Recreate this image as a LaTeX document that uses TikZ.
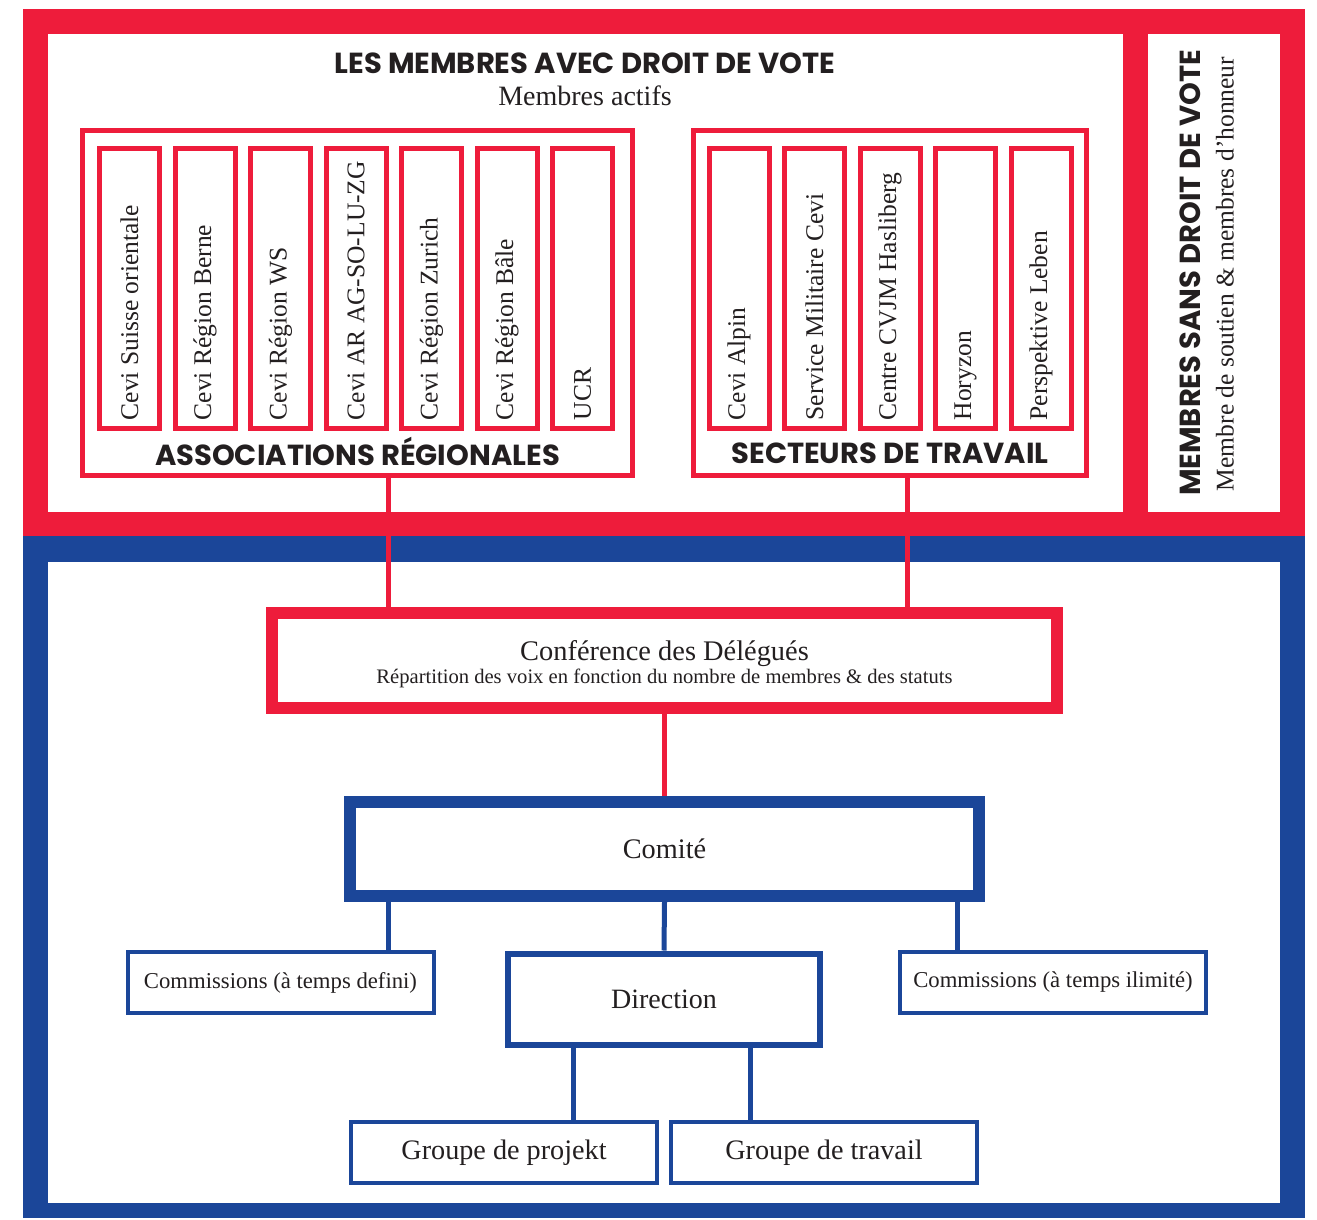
\documentclass[tikz,border=0pt]{standalone}
\usepackage{fontspec}
\setmainfont{Liberation Serif}
\newfontfamily\headfont{Poppins}
\usetikzlibrary{calc}
\definecolor{cevired}{HTML}{EE1C3B}
\definecolor{ceviblue}{HTML}{1B4699}
\definecolor{ink}{HTML}{231F20}
\newcommand{\regcell}[3]{\node[cell] (#1) at ( #2 , 288.5 ) {};
  \node[celltext] (#1t) at ([yshift=10.5pt]#1.south) {#3};}
\tikzset{
  cell/.style={draw=cevired, line width=5pt, minimum width=60pt, minimum height=280pt, inner sep=0pt},
  celltext/.style={rotate=90, anchor=west, inner sep=0pt, text=ink, font=\fontsize{25.5}{28}\selectfont},
  groupbox/.style={draw=cevired, line width=5pt, minimum height=345pt, inner sep=0pt},
  head/.style={text=ink, inner sep=0pt, font=\headfont\bfseries\fontsize{29}{32}\selectfont},
  delbox/.style={draw=cevired, line width=12pt, fill=white, minimum width=785pt, minimum height=95pt},
  combox/.style={draw=ceviblue, line width=12pt, fill=white, minimum width=629pt, minimum height=94pt, text=ink, font=\fontsize{28.3}{32}\selectfont},
  dirbox/.style={draw=ceviblue, line width=6pt, fill=white, minimum width=312pt, minimum height=91pt, text=ink, font=\fontsize{28}{32}\selectfont},
  subbox/.style={draw=ceviblue, line width=4pt, fill=white, minimum width=306pt, minimum height=61pt, text=ink},
  redlink/.style={draw=cevired, line width=5pt},
  bluelink/.style={draw=ceviblue, line width=5pt}
}
\begin{document}
\begin{tikzpicture}[x=1pt, y=-1pt]
        \useasboundingbox (0,0) rectangle (1317,1220);
        % frames
        \fill[cevired] (23,9) rectangle (1305,536);
        \fill[white] (48,34) rectangle (1123,512);
        \fill[white] (1148,34) rectangle (1280,512);
        \fill[ceviblue] (23,536) rectangle (1305,1218);
        \fill[white] (48,562) rectangle (1280,1203);
        % members with vote
        \node[head] (vote) at (585,63) {LES MEMBRES AVEC DROIT DE VOTE};
        \node[text=ink, font=\fontsize{28}{32}\selectfont] (actifs) at (585,96) {Membres actifs};
        \node[groupbox, minimum width=550pt] (assoc) at (357.5,303) {};
        \node[groupbox, minimum width=393pt] (sect) at (890,303) {};
        % associations
        \regcell{r1}{129.5}{Cevi Suisse orientale}
        \regcell{r2}{205}{Cevi Région Berne}
        \regcell{r3}{280.5}{Cevi Région WS}
        \regcell{r4}{356}{Cevi AR AG-SO-LU-ZG}
        \regcell{r5}{431.5}{Cevi Région Zurich}
        \regcell{r6}{507}{Cevi Région Bâle}
        \regcell{r7}{582.5}{UCR}
        \node[head] (assoct) at (357.5,451.5) {ASSOCIATIONS RÉGIONALES};
        % secteurs
        \regcell{s1}{739}{Cevi Alpin}
        \regcell{s2}{814.5}{Service Militaire Cevi}
        \regcell{s3}{890}{Centre CVJM Hasliberg}
        \regcell{s4}{965.5}{Horyzon}
        \regcell{s5}{1041}{Perspektive Leben}
        \node[head] (sectt) at (890,453) {SECTEURS DE TRAVAIL};
        % members without vote
        \node[head, rotate=90] (sansvote) at (1190,273) {MEMBRES SANS DROIT DE VOTE};
        \node[rotate=90, inner sep=0pt, text=ink, font=\fontsize{25.5}{28}\selectfont] (soutien) at (1225,274)
          {Membre de soutien \& membres d'honneur};
        % organs
        \node[delbox] (conf) at (664.5,660.5) {};
        \node[align=center, text=ink] (conft) at ([yshift=-4pt]conf.center)
          {{\fontsize{28.4}{30}\selectfont Conférence des Délégués}\\[1.5pt]
           {\fontsize{20.6}{22}\selectfont Répartition des voix en fonction du nombre de membres \& des statuts}};
        \node[combox] (comite) at (664.5,849) {Comité};
        \node[dirbox] (direction) at (664,999) {Direction};
        \node[subbox, font=\fontsize{22.7}{26}\selectfont] (comdef) at (280.5,982.5) {Commissions (à temps defini)};
        \node[subbox, font=\fontsize{22.7}{26}\selectfont] (comill) at (1053,982.5) {Commissions (à temps ilimité)};
        \node[subbox, font=\fontsize{28.2}{32}\selectfont] (projekt) at (504,1152.5) {Groupe de projekt};
        \node[subbox, font=\fontsize{28.2}{32}\selectfont] (travail) at (824,1152.5) {Groupe de travail};
        % links
        \coordinate (la) at (388,0);
        \coordinate (lb) at (907,0);
        \coordinate (lc) at (957,0);
        \coordinate (ld) at (573,0);
        \coordinate (le) at (750,0);
        \draw[redlink] (assoc.south -| la) -- (conf.north -| la);
        \draw[redlink] (sect.south -| lb) -- (conf.north -| lb);
        \draw[redlink] (conf.south -| comite.north) -- (comite.north);
        \draw[bluelink] (comite.south -| la) -- (comdef.north -| la);
        \draw[bluelink] (comite.south) -- (direction.north);
        \draw[bluelink] (comite.south -| lc) -- (comill.north -| lc);
        \draw[bluelink] (direction.south -| ld) -- (projekt.north -| ld);
        \draw[bluelink] (direction.south -| le) -- (travail.north -| le);
\end{tikzpicture}
\end{document}
